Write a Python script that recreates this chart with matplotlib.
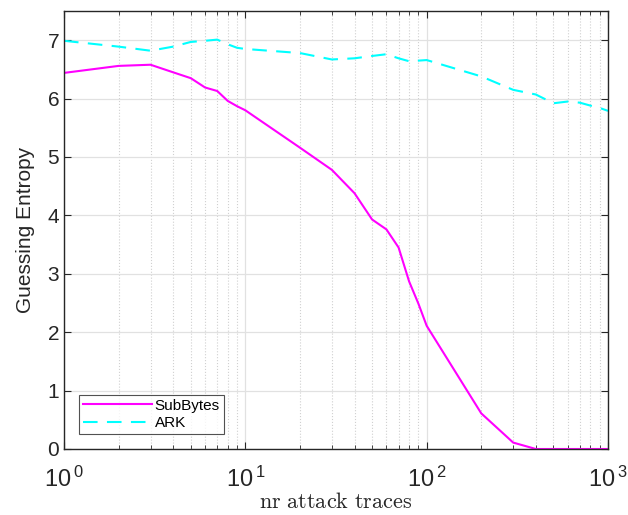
import matplotlib
import matplotlib.pyplot as plt
from matplotlib.ticker import FixedLocator, LogLocator, NullFormatter

matplotlib.rc('font', family='Liberation Sans', size=13)

# number of attack traces
traces = [1, 2, 3, 4, 5, 6, 7, 8, 9, 10, 20, 30, 40, 50, 60, 70, 80, 90,
          100, 200, 300, 400, 500, 600, 700, 800, 900, 1000]

ge_subbytes = [6.44, 6.56, 6.58, 6.45, 6.35, 6.19, 6.13, 5.96, 5.87, 5.80,
               5.16, 4.78, 4.38, 3.93, 3.76, 3.45, 2.87, 2.49,
               2.11, 0.61, 0.11, 0.0, 0.0, 0.0, 0.0, 0.0, 0.0, 0.0]

ge_ark = [6.99, 6.89, 6.82, 6.89, 6.97, 6.99, 7.01, 6.93, 6.87, 6.85,
          6.78, 6.67, 6.69, 6.73, 6.76, 6.69, 6.64, 6.65,
          6.66, 6.38, 6.15, 6.07, 5.92, 5.95, 5.93, 5.88, 5.84, 5.79]

yticks = [0, 1, 2, 3, 4, 5, 6, 7]
xticks = [1, 10, 100, 1000]

fig = plt.figure(figsize=(6.28, 5.15), dpi=100)
ax = fig.add_axes([64/628, 66/515, 544/628, 438/515])

ax.plot(traces, ge_subbytes, color='#ff00ff', lw=1.5, label='SubBytes')
ax.plot(traces, ge_ark, color='#00ffff', lw=1.5, ls=(0, (7, 4.5)), label='ARK')

ax.set_xscale('log')
ax.set_xlim(1, 1000)
ax.set_ylim(0, 7.5)
ax.set_yticks(yticks)
ax.xaxis.set_major_locator(FixedLocator(xticks))
ax.set_xticklabels([r'$\mathregular{10^{\,%d}}$' % i for i in range(4)])
ax.xaxis.set_minor_locator(LogLocator(base=10, subs=range(2, 10)))
ax.xaxis.set_minor_formatter(NullFormatter())

ax.grid(True, which='major', color='#e1e1e1', lw=0.9)
ax.grid(True, which='minor', axis='x', color='#d0d0d0', lw=0.8, ls=':')
ax.set_axisbelow(True)

ax.tick_params(which='both', direction='in', top=True, right=True,
               colors='#262626', labelcolor='#262626')
ax.tick_params(which='major', length=5, labelsize=15)
ax.tick_params(which='minor', length=3)
ax.tick_params(axis='x', pad=13, labelsize=17)
for s in ax.spines.values():
    s.set_color('#262626')
    s.set_linewidth(1.0)

ax.set_ylabel('Guessing Entropy', fontsize=15, color='#262626', labelpad=9)
ax.set_xlabel(r'$\mathrm{nr\ attack\ traces}$', fontsize=16,
              math_fontfamily='cm', color='#262626', labelpad=0)

leg = ax.legend(loc='lower left', bbox_to_anchor=(0.028, 0.035),
                fontsize=11, frameon=True, fancybox=False,
                edgecolor='#262626', handlelength=4.5, borderpad=0.25,
                labelspacing=0.2, handletextpad=0.2, borderaxespad=0)
leg.get_frame().set_linewidth(0.8)

plt.savefig('out.png', dpi=100)
